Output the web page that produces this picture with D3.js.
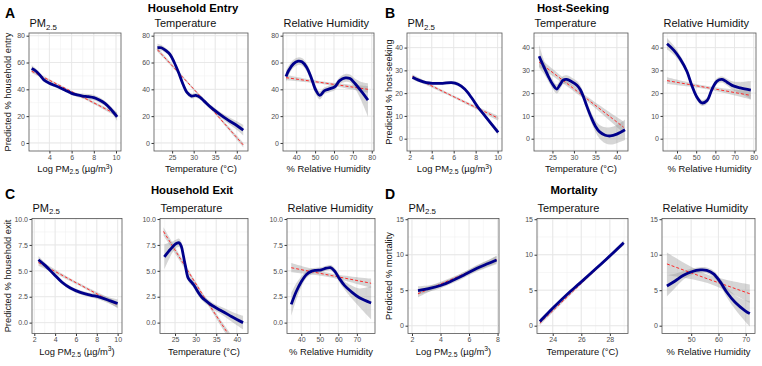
<!DOCTYPE html>
<html>
<head>
<meta charset="utf-8">
<script src="https://cdn.jsdelivr.net/npm/d3@7"></script>
<style>
  body { margin: 0; background: #fff; }
  svg { font-family: "Liberation Sans", Arial, sans-serif; }
</style>
</head>
<body>
<script>
// ---- data: [x, fitted, half-width of band] ----
// Household entry
const entryPm = [[2.4,55.5,2.5],[2.8,53.5,1.8],[3.2,50,1.5],[3.5,47,1.3],[4.0,44.5,1.2],[4.5,42.8,1.2],[5.0,41,1.2],[5.5,39,1.2],[6.0,37,1.3],[6.5,35.8,1.5],[7.0,35,1.8],[7.5,34.5,2],[8.0,33.8,2],[8.5,32,2],[9.0,29.5,1.8],[9.5,25.5,2],[10.1,19.5,3]];
const entryPmLin = [[2.4,53.5,1.3],[6.2,37.5,0.6],[10.1,21,1.5]];
const entryTemp = [[21.6,71,3],[22.5,71,2],[23.5,69,1.8],[24.5,66,1.8],[25.5,60,1.8],[26.5,52.5,1.8],[27.5,44,1.8],[28.5,37.5,1.8],[29.5,35,1.8],[30.5,35.5,1.8],[31.5,34,1.8],[32.5,31,1.8],[34,26.5,1.8],[36,21.5,2],[38,17,2.5],[40,13,3.2],[41.5,9.5,4]];
const entryTempLin = [[21.6,69.5,1.5],[31.5,35,0.8],[41.5,-1.5,1.8]];
const entryRh = [[34.6,49.5,4],[36,54,3.5],[38.5,59,3],[41,61,2.8],[43,60.5,2.8],[45.5,56.5,3],[48,48.5,3],[50.5,39,3],[52.5,35.5,3],[55,39,2.5],[58,40.5,2.5],[60.5,42,2.5],[63,46.5,2.5],[66,48.5,3],[68.5,48,3],[71,44.5,3.5],[74.5,38.5,7],[78,32,12.5]];
const entryRhLin = [[34.6,48.7,2],[56,44.5,1],[78,40,2.5]];

// Host-seeking
const seekPm = [[2.25,27,1],[2.8,25.7,0.8],[3.5,24.6,0.6],[4.1,24.3,0.6],[5.0,24.3,0.6],[5.8,24.6,0.7],[6.4,23.9,0.8],[7.0,21.8,0.8],[7.6,18.2,0.8],[8.25,13.6,0.8],[8.9,9.7,0.8],[9.5,6.1,1],[10.05,2.8,1.2]];
const seekPmLin = [[2.25,27.3,1],[6.1,18.2,0.5],[10.05,9,1]];
const seekTemp = [[21.9,36.2,5],[23,31.5,3],[24,27.5,2.2],[25,24,2],[26,21.8,2],[26.7,23.5,2],[27.5,25.7,1.8],[28.3,26,1.8],[29.5,25,1.8],[30.7,23.5,1.8],[31.5,21.5,1.8],[32.3,18,1.8],[33,14.3,2],[34,9.5,2.2],[35,5.5,2.5],[36,3,3],[37.3,1.5,3.5],[38.5,1.2,3.8],[40,2,4],[41.9,3.9,4.5]];
const seekTempLin = [[21.9,33.6,2],[31.8,19.3,1],[41.6,5,2.5]];
const seekRh = [[34.8,41.7,2.5],[38.3,38.9,2],[41.7,35,1.5],[45.2,29.5,1.3],[47.8,23.2,1.3],[50.4,18.2,1.3],[53,15.7,1.3],[55.7,16.8,1.3],[58.3,21.8,1.3],[60.9,25.3,1.3],[63.5,26,1.3],[66.1,24.8,1.5],[68.7,23.4,1.8],[73,22.3,2.5],[78.5,21.3,4]];
const seekRhLin = [[34.8,25.5,1.5],[56.5,22.3,0.7],[78.5,19,1.8]];

// Household exit
const exitPm = [[2.4,6.07,0.35],[3.06,5.5,0.25],[3.86,4.7,0.2],[4.66,3.9,0.2],[5.46,3.34,0.2],[6.42,2.92,0.2],[7.38,2.66,0.2],[8.34,2.44,0.25],[9.3,2.1,0.3],[10,1.85,0.4]];
const exitPmLin = [[2.4,5.8,0.3],[6.2,3.75,0.12],[10,1.7,0.3]];
const exitTemp = [[22.4,6.35,1.2],[23.5,6.9,0.8],[24.5,7.35,0.5],[25.4,7.65,0.4],[26,7.7,0.4],[26.5,7.4,0.4],[27,6.5,0.35],[27.5,5.5,0.3],[28.2,4.3,0.3],[29,3.9,0.3],[29.6,3.6,0.3],[30.5,3.0,0.3],[31.5,2.45,0.3],[32.5,2.1,0.3],[34,1.65,0.3],[36,1.2,0.35],[38,0.75,0.45],[40,0.3,0.55],[41.5,0,0.65]];
const exitTempLin = [[22.2,8.8,0.4],[32,2.5,0.2],[41.5,-3.3,0.5]];
const exitRh = [[34.6,1.76,1.1],[37.3,3.0,0.8],[40,3.95,0.5],[42.7,4.63,0.35],[45.4,4.95,0.3],[48,5.05,0.25],[50.8,5.1,0.25],[53.5,5.25,0.25],[55.8,5.3,0.25],[57.9,5.0,0.3],[60.6,4.25,0.35],[63.3,3.6,0.4],[66.9,3.0,0.6],[71.4,2.4,0.9],[77.7,1.9,1.6]];
const exitRhLin = [[34.6,5.3,0.45],[56,4.55,0.2],[77.7,3.8,0.45]];

// Mortality
const mortPm = [[2.42,4.95,0.6],[3.24,5.25,0.45],[4.06,5.7,0.4],[4.88,6.4,0.4],[5.7,7.2,0.4],[6.52,8.05,0.45],[7.34,8.75,0.5],[7.93,9.25,0.6]];
const mortPmLin = [[2.42,4.5,0.5],[5.2,6.9,0.25],[7.93,9.3,0.5]];
const mortTemp = [[23.1,0.6,0.35],[24.07,2.6,0.25],[25,4.4,0.2],[25.9,6.0,0.2],[26.84,7.7,0.2],[27.77,9.4,0.25],[28.97,11.7,0.35]];
const mortTempLin = [[23.1,0.35,0.3],[26,5.95,0.15],[28.97,11.6,0.3]];
const mortRh = [[41.1,5.6,1.5],[44.1,6.3,1.0],[47.2,7.1,0.6],[50.2,7.6,0.45],[53.3,7.85,0.4],[55.7,7.8,0.4],[58.2,7.3,0.45],[60.6,6.2,0.5],[63.0,4.75,0.7],[66.1,3.3,1.0],[69.8,2.1,1.5],[71.5,1.7,1.8]];
const mortRhLin = [[41.1,8.7,1.6],[56,6.6,0.6],[71.5,4.5,1.3]];

// tick values
const ticksPm = [2, 4, 6, 8, 10];
const ticksPmMort = [2, 4, 6, 8];
const ticksTemp = [25, 30, 35, 40];
const ticksTempMort = [24, 26, 28];
const ticksRh = [40, 50, 60, 70, 80];
const ticksRhMort = [50, 60, 70];
const ticksEntry = [0, 20, 40, 60, 80];
const ticksSeek = [0, 10, 20, 30, 40];
const ticksExit = [0, 2.5, 5, 7.5, 10];
const ticksMort = [0, 5, 10, 15];

const groupTitles = ["Household Entry", "Host-Seeking", "Household Exit", "Mortality"];
const letters = ["A", "B", "C", "D"];
const yTitles = ["Predicted % household entry", "Predicted % host-seeking", "Predicted % household exit", "Predicted % mortality"];

// ---- layout ----
const width = 762, height = 366;
const rows = [{top: 33, bottom: 151}, {top: 218.5, bottom: 333.5}];

const panels = [
  {row: 0, x0: 29,  x1: 121, xd: [2.16, 10.45], yd: [-6, 82],  xt: ticksPm, yt: ticksEntry, fmt: d3.format("d"),   kind: "pm",   fit: entryPm,  lin: entryPmLin},
  {row: 0, x0: 154, x1: 248, xd: [20.8, 42.6],  yd: [-6, 82],  xt: ticksTemp, yt: ticksEntry, fmt: d3.format("d"), kind: "temp", fit: entryTemp, lin: entryTempLin},
  {row: 0, x0: 283, x1: 374, xd: [33, 81.2],    yd: [-6, 82],  xt: ticksRh, yt: ticksEntry, fmt: d3.format("d"),   kind: "rh",   fit: entryRh,  lin: entryRhLin},
  {row: 0, x0: 407, x1: 502, xd: [1.75, 10.4],  yd: [-5.4, 46.4], xt: ticksPm, yt: ticksSeek, fmt: d3.format("d"), kind: "pm",   fit: seekPm,   lin: seekPmLin},
  {row: 0, x0: 534, x1: 628, xd: [20.7, 42.6],  yd: [-5.4, 46.4], xt: ticksTemp, yt: ticksSeek, fmt: d3.format("d"), kind: "temp", fit: seekTemp, lin: seekTempLin},
  {row: 0, x0: 663, x1: 756, xd: [32.7, 81.2],  yd: [-5.4, 46.4], xt: ticksRh, yt: ticksSeek, fmt: d3.format("d"), kind: "rh",   fit: seekRh,   lin: seekRhLin},
  {row: 1, x0: 32,  x1: 122, xd: [1.78, 10.42], yd: [-1.05, 10.05], xt: ticksPm, yt: ticksExit, fmt: d3.format(".1f"), kind: "pm", fit: exitPm, lin: exitPmLin},
  {row: 1, x0: 160, x1: 248, xd: [21.35, 42.7], yd: [-1.05, 10.05], xt: ticksTemp, yt: ticksExit, fmt: d3.format(".1f"), kind: "temp", fit: exitTemp, lin: exitTempLin},
  {row: 1, x0: 287, x1: 375, xd: [32.3, 79.8],  yd: [-1.05, 10.05], xt: ticksRh, yt: ticksExit, fmt: d3.format(".1f"), kind: "rh", fit: exitRh, lin: exitRhLin},
  {row: 1, x0: 408, x1: 499, xd: [1.72, 8.1],   yd: [-1.1, 15.1], xt: ticksPmMort, yt: ticksMort, fmt: d3.format("d"), kind: "pm", fit: mortPm, lin: mortPmLin},
  {row: 1, x0: 537, x1: 628, xd: [22.9, 29.27], yd: [-1.1, 15.1], xt: ticksTempMort, yt: ticksMort, fmt: d3.format("d"), kind: "temp", fit: mortTemp, lin: mortTempLin},
  {row: 1, x0: 662, x1: 755, xd: [39.3, 73.4],  yd: [-1.1, 15.1], xt: ticksRhMort, yt: ticksMort, fmt: d3.format("d"), kind: "rh", fit: mortRh, lin: mortRhLin}
];

const svg = d3.select("body").append("svg")
  .attr("width", width)
  .attr("height", height);

// writes "PM2.5" style text with a subscript into a text element
const addPm = (t, size) => {
  t.append("tspan").text("PM");
  t.append("tspan").attr("font-size", size * 0.72).attr("dy", size * 0.25).text("2.5");
  return t;
};

panels.forEach((p, i) => {
  const r = rows[p.row];
  const x = d3.scaleLinear().domain(p.xd).range([p.x0, p.x1]);
  const y = d3.scaleLinear().domain(p.yd).range([r.bottom, r.top]);
  const g = svg.append("g");

  // minor + major grid
  const xMinor = d3.range(p.xt[0] - (p.xt[1] - p.xt[0]) / 2, p.xd[1], (p.xt[1] - p.xt[0]) / 2).filter(v => v > p.xd[0]);
  const yMinor = d3.range(p.yt[0] - (p.yt[1] - p.yt[0]) / 2, p.yd[1], (p.yt[1] - p.yt[0]) / 2).filter(v => v > p.yd[0]);
  g.selectAll(".xminor").data(xMinor).join("line")
    .attr("x1", d => x(d)).attr("x2", d => x(d)).attr("y1", r.top).attr("y2", r.bottom)
    .attr("stroke", "#f2f2f2").attr("stroke-width", 0.6);
  g.selectAll(".yminor").data(yMinor).join("line")
    .attr("x1", p.x0).attr("x2", p.x1).attr("y1", d => y(d)).attr("y2", d => y(d))
    .attr("stroke", "#f2f2f2").attr("stroke-width", 0.6);
  g.selectAll(".xmajor").data(p.xt.filter(v => v > p.xd[0] && v < p.xd[1])).join("line")
    .attr("x1", d => x(d)).attr("x2", d => x(d)).attr("y1", r.top).attr("y2", r.bottom)
    .attr("stroke", "#e6e6e6").attr("stroke-width", 0.9);
  g.selectAll(".ymajor").data(p.yt).join("line")
    .attr("x1", p.x0).attr("x2", p.x1).attr("y1", d => y(d)).attr("y2", d => y(d))
    .attr("stroke", "#e6e6e6").attr("stroke-width", 0.9);

  // clip
  svg.append("clipPath").attr("id", "clip" + i)
    .append("rect").attr("x", p.x0).attr("y", r.top).attr("width", p.x1 - p.x0).attr("height", r.bottom - r.top);
  const plot = g.append("g").attr("clip-path", `url(#clip${i})`);

  const band = d3.area().x(d => x(d[0])).y0(d => y(d[1] - d[2])).y1(d => y(d[1] + d[2])).curve(d3.curveCatmullRom);
  const line = d3.line().x(d => x(d[0])).y(d => y(d[1])).curve(d3.curveCatmullRom);
  const straight = d3.line().x(d => x(d[0])).y(d => y(d[1]));

  plot.append("path").datum(p.lin).attr("d", band).attr("fill", "#999").attr("opacity", 0.4);
  plot.append("path").datum(p.fit).attr("d", band).attr("fill", "#999").attr("opacity", 0.4);
  plot.append("path").datum(p.lin).attr("d", straight)
    .attr("fill", "none").attr("stroke", "#ff2a2a").attr("stroke-width", 1).attr("stroke-dasharray", "3,2");
  plot.append("path").datum(p.fit).attr("d", line)
    .attr("fill", "none").attr("stroke", "#00008b").attr("stroke-width", 2.8).attr("stroke-linejoin", "round");

  // axes
  const xAxis = d3.axisBottom(x).tickValues(p.xt.filter(v => v >= p.xd[0] && v <= p.xd[1])).tickFormat(d3.format("d"))
    .tickSize(2.5).tickPadding(1.5).tickSizeOuter(0);
  const yAxis = d3.axisLeft(y).tickValues(p.yt).tickFormat(p.fmt).tickSize(2.5).tickPadding(1.5).tickSizeOuter(0);
  const xg = g.append("g").attr("transform", `translate(0,${r.bottom})`).call(xAxis);
  const yg = g.append("g").attr("transform", `translate(${p.x0},0)`).call(yAxis);
  [xg, yg].forEach(a => {
    a.select(".domain").remove();
    a.selectAll("line").attr("stroke", "#333");
    a.selectAll("text").attr("fill", "#4d4d4d").attr("font-size", 7).attr("font-family", "Liberation Sans, Arial, sans-serif");
  });

  g.append("rect").attr("x", p.x0).attr("y", r.top).attr("width", p.x1 - p.x0).attr("height", r.bottom - r.top)
    .attr("fill", "none").attr("stroke", "#555").attr("stroke-width", 0.8);

  // panel title
  const tBase = p.row === 0 ? 27 : 211.5;
  const title = g.append("text").attr("x", p.x0 + 0.5).attr("y", tBase).attr("font-size", 11).attr("fill", "#111");
  if (p.kind === "pm") addPm(title, 11);
  else title.text(p.kind === "temp" ? "Temperature" : "Relative Humidity");

  // x title
  const xt = g.append("text").attr("x", (p.x0 + p.x1) / 2).attr("y", r.bottom + 21)
    .attr("text-anchor", "middle").attr("font-size", 9.4).attr("fill", "#111");
  if (p.kind === "pm") {
    xt.append("tspan").text("Log ");
    xt.append("tspan").text("PM");
    xt.append("tspan").attr("font-size", 6.8).attr("dy", 2.2).text("2.5");
    xt.append("tspan").attr("dy", -2.2).text(" (\u00b5g/m");
    xt.append("tspan").attr("font-size", 6.8).attr("dy", -3.5).text("3");
    xt.append("tspan").attr("dy", 3.5).text(")");
  } else if (p.kind === "temp") {
    xt.text("Temperature (\u00b0C)");
  } else {
    xt.text("% Relative Humidity");
  }
});

// y titles, letters, group titles
const groupPos = [{x: 193, y: 12, lx: 5, ly: 18, yx: 11, row: 0},
                  {x: 573, y: 12, lx: 385, ly: 18, yx: 392, row: 0},
                  {x: 192, y: 194, lx: 5, ly: 198.5, yx: 11, row: 1},
                  {x: 574, y: 194, lx: 385, ly: 198.5, yx: 392, row: 1}];
groupPos.forEach((gp, i) => {
  const r = rows[gp.row];
  svg.append("text").attr("x", gp.x).attr("y", gp.y).attr("text-anchor", "middle")
    .attr("font-size", 11.3).attr("font-weight", "bold").attr("fill", "#000").text(groupTitles[i]);
  svg.append("text").attr("x", gp.lx).attr("y", gp.ly)
    .attr("font-size", 14).attr("font-weight", "bold").attr("fill", "#000").text(letters[i]);
  svg.append("text")
    .attr("transform", `translate(${gp.yx},${(r.top + r.bottom) / 2}) rotate(-90)`)
    .attr("text-anchor", "middle").attr("font-size", 9.3).attr("fill", "#111").text(yTitles[i]);
});
</script>
</body>
</html>
